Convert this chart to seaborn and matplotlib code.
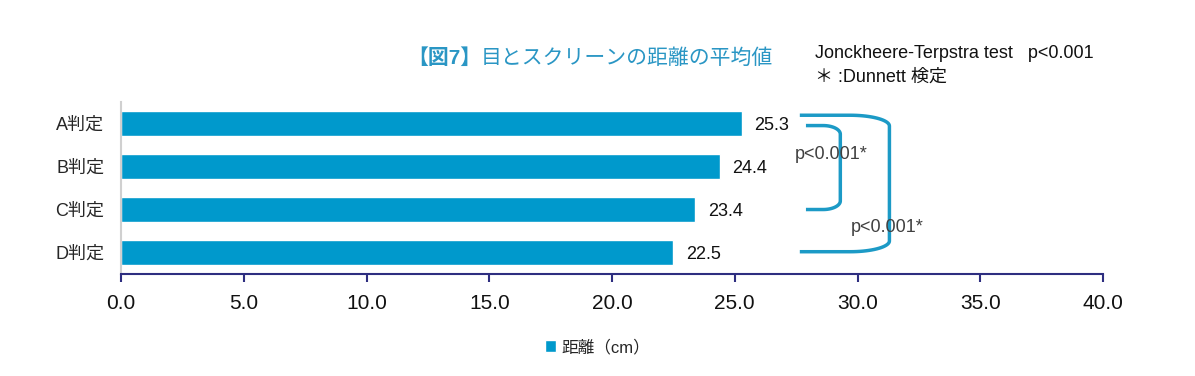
import numpy as np
import pandas as pd
import seaborn as sns
import matplotlib.pyplot as plt

# data
categories = ['A判定', 'B判定', 'C判定', 'D判定']
distance = [25.3, 24.4, 23.4, 22.5]
x_ticks = [0, 5, 10, 15, 20, 25, 30, 35, 40]
p_labels = ['p<0.001*', 'p<0.001*']

df = pd.DataFrame({'判定': categories, '距離': distance})

sns.set_style('white')
plt.rcParams['font.family'] = ['Liberation Sans', 'Noto Sans CJK JP', 'DejaVu Sans']

bar_color = '#0099CC'
line_color = '#1C9AC6'

fig = plt.figure(figsize=(11.95, 3.76), dpi=100)
ax = fig.add_axes([0.1013, 0.271, 0.8217, 0.458])

sns.barplot(data=df, x='距離', y='判定', color=bar_color, width=0.58,
            saturation=1, label='距離（cm）', ax=ax)
if ax.get_legend() is not None:
    ax.get_legend().remove()

ax.set_xlim(0, 40)
ax.set_ylim(3.5, -0.5)
ax.set_xticks(x_ticks)
ax.set_xticklabels([f'{t:.1f}' for t in x_ticks], fontsize=15, color='#111111')
ax.tick_params(axis='x', bottom=True, direction='out', length=6, width=1.5, color='#2E2E80', pad=8)
ax.tick_params(axis='y', left=False, length=0, labelsize=13, pad=12)
ax.set_xlabel('')
ax.set_ylabel('')
for s in ['top', 'right']:
    ax.spines[s].set_visible(False)
ax.spines['bottom'].set_color('#2E2E80')
ax.spines['bottom'].set_linewidth(1.5)
ax.spines['left'].set_color('#D0D0D0')
ax.spines['left'].set_linewidth(1.5)

# value labels
for i, v in enumerate(distance):
    ax.text(v + 0.5, i + 0.05, f'{v:.1f}', va='center', ha='left', fontsize=13, color='#111111')


# brackets (A vs C, A vs D) with rounded corners
def bracket(y0, y1, x_start, x_v, rx, ry, label, lx, ly):
    t = np.linspace(0, np.pi / 2, 20)
    top_x = x_v - rx + rx * np.sin(t)
    top_y = y0 + ry - ry * np.cos(t)
    bot_x = x_v - rx + rx * np.cos(t)
    bot_y = y1 - ry + ry * np.sin(t)
    xs = np.concatenate([[x_start], top_x, bot_x, [x_start]])
    ys = np.concatenate([[y0], top_y, bot_y, [y1]])
    ax.plot(xs, ys, color=line_color, lw=2.5, solid_capstyle='butt', clip_on=False)
    ax.text(lx, ly, label, fontsize=13, color='#404040', ha='center', va='center')


bracket(0.05, 2.0, 27.9, 29.3, 0.7, 0.2, p_labels[0], 28.95, 0.72)
bracket(-0.19, 2.98, 27.65, 31.3, 1.6, 0.25, p_labels[1], 31.2, 2.42)

# titles / notes
title_color = '#2A96C4'
fig.text(0.4025, 0.845, '【図7】', fontsize=15, color=title_color, fontweight='bold',
         ha='right', va='center')
fig.text(0.4025, 0.845, '目とスクリーンの距離の平均値', fontsize=15, color=title_color,
         ha='left', va='center')
fig.text(0.682, 0.858, 'Jonckheere-Terpstra test   p<0.001', fontsize=13, color='#111111',
         ha='left', va='center')
fig.text(0.682, 0.795, '＊ :Dunnett 検定', fontsize=13, color='#111111', ha='left', va='center')

handles, labels = ax.get_legend_handles_labels()
fig.legend(handles[:1], labels[:1], loc='center', bbox_to_anchor=(0.5, 0.077), frameon=False,
           fontsize=12, handlelength=0.7, handleheight=0.7, handletextpad=0.3)

fig.savefig('out.png', dpi=100)
